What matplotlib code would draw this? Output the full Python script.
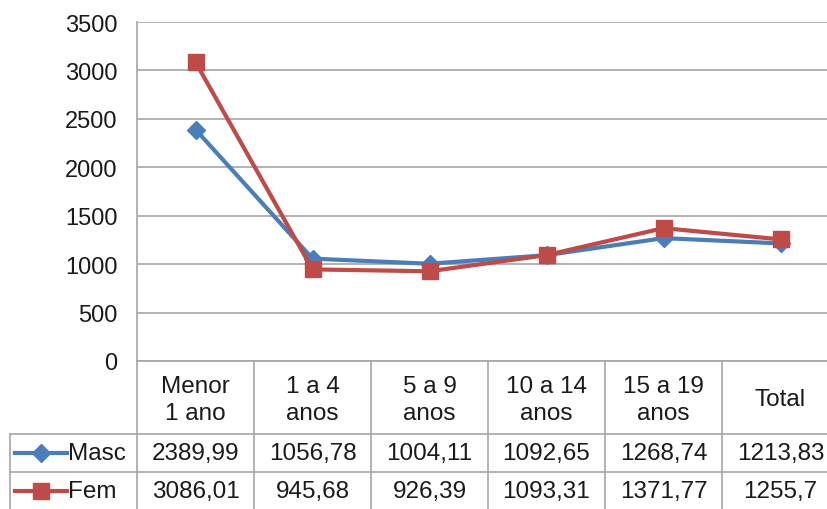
import matplotlib
matplotlib.use("Agg")
import matplotlib.pyplot as plt
from matplotlib.lines import Line2D

plt.rcParams['font.family'] = ['Liberation Sans', 'DejaVu Sans']

categories = ["Menor\n1 ano", "1 a 4\nanos", "5 a 9\nanos", "10 a 14\nanos", "15 a 19\nanos", "Total"]
masc = [2389.99, 1056.78, 1004.11, 1092.65, 1268.74, 1213.83]
fem = [3086.01, 945.68, 926.39, 1093.31, 1371.77, 1255.7]
masc_labels = ["2389,99", "1056,78", "1004,11", "1092,65", "1268,74", "1213,83"]
fem_labels = ["3086,01", "945,68", "926,39", "1093,31", "1371,77", "1255,7"]
yticks = [0, 500, 1000, 1500, 2000, 2500, 3000, 3500]

BLUE = "#4a7ebb"
RED = "#be4b48"
GRID = "#a6a6a6"
TXT = "#1a1a1a"
FS_TICK = 17
FS_TAB = 17.5

W, H = 827, 510
fig = plt.figure(figsize=(W / 100, H / 100), dpi=100)

# plot area (pixel geometry converted to figure fractions)
px_left, px_right, px_top, px_bottom = 137, 839, 23, 362
ax = fig.add_axes([px_left / W, 1 - px_bottom / H, (px_right - px_left) / W, (px_bottom - px_top) / H])
x = list(range(len(categories)))
ax.set_xlim(-0.5, len(categories) - 0.5)
ax.set_ylim(0, 3500)
ax.set_yticks(yticks)
ax.set_yticklabels([str(v) for v in yticks], fontsize=FS_TICK, color=TXT)
ax.tick_params(axis='y', length=0, pad=14)
ax.set_xticks([])
for s in ['top', 'right', 'bottom']:
    ax.spines[s].set_visible(False)
ax.spines['left'].set_color(GRID)
ax.spines['left'].set_linewidth(1.2)
ax.grid(axis='y', color=GRID, linewidth=1.2)
ax.set_axisbelow(True)

ax.plot(x, masc, color=BLUE, lw=3, marker='D', markersize=9, zorder=3, clip_on=False)
ax.plot(x, fem, color=RED, lw=3, marker='s', markersize=12, zorder=4, clip_on=False)

# data table beneath the plot
tab = fig.add_axes([px_left / W, 0, (px_right - px_left) / W, (H - px_bottom) / H])
tab.set_xlim(-0.5, len(categories) - 0.5)
tab.set_ylim(H, px_bottom)
tab.axis('off')

row_hdr = (362, 435)
row_m = (435, 473)
row_f = (473, 511)
legend_left = -0.5 - (137 - 10) / 117.0

lk = dict(color=GRID, lw=1.2, clip_on=False)
tab.plot([-0.5, len(categories) - 0.5], [row_hdr[0]] * 2, **lk)
tab.plot([legend_left, len(categories) - 0.5], [row_m[0]] * 2, **lk)
tab.plot([legend_left, len(categories) - 0.5], [row_f[0]] * 2, **lk)
tab.plot([legend_left, len(categories) - 0.5], [row_f[1]] * 2, **lk)
tab.plot([legend_left, legend_left], [row_m[0], row_f[1]], **lk)
for i in range(len(categories) + 1):
    tab.plot([i - 0.5, i - 0.5], [row_hdr[0], row_f[1]], **lk)

for i, c in enumerate(categories):
    tab.text(i, sum(row_hdr) / 2 + 2, c, ha='center', va='center', fontsize=FS_TAB,
             color=TXT, linespacing=1.32)
    tab.text(i, sum(row_m) / 2, masc_labels[i], ha='center', va='center', fontsize=FS_TAB, color=TXT)
    tab.text(i, sum(row_f) / 2, fem_labels[i], ha='center', va='center', fontsize=FS_TAB, color=TXT)

# legend keys inside the row headers
key_x0 = legend_left + 5 / 117.0
key_x1 = legend_left + 57 / 117.0
key_xm = (key_x0 + key_x1) / 2
for (row, col, mk, ms, name) in [(row_m, BLUE, 'D', 9, "Masc"), (row_f, RED, 's', 12, "Fem")]:
    yc = sum(row) / 2
    tab.add_line(Line2D([key_x0, key_x1], [yc, yc], color=col, lw=3, clip_on=False))
    tab.add_line(Line2D([key_xm], [yc], color=col, marker=mk, markersize=ms, clip_on=False))
    tab.text(key_x1 + 1 / 117.0, yc, name, ha='left', va='center', fontsize=FS_TAB, color=TXT)

fig.savefig("out.png", dpi=100)
